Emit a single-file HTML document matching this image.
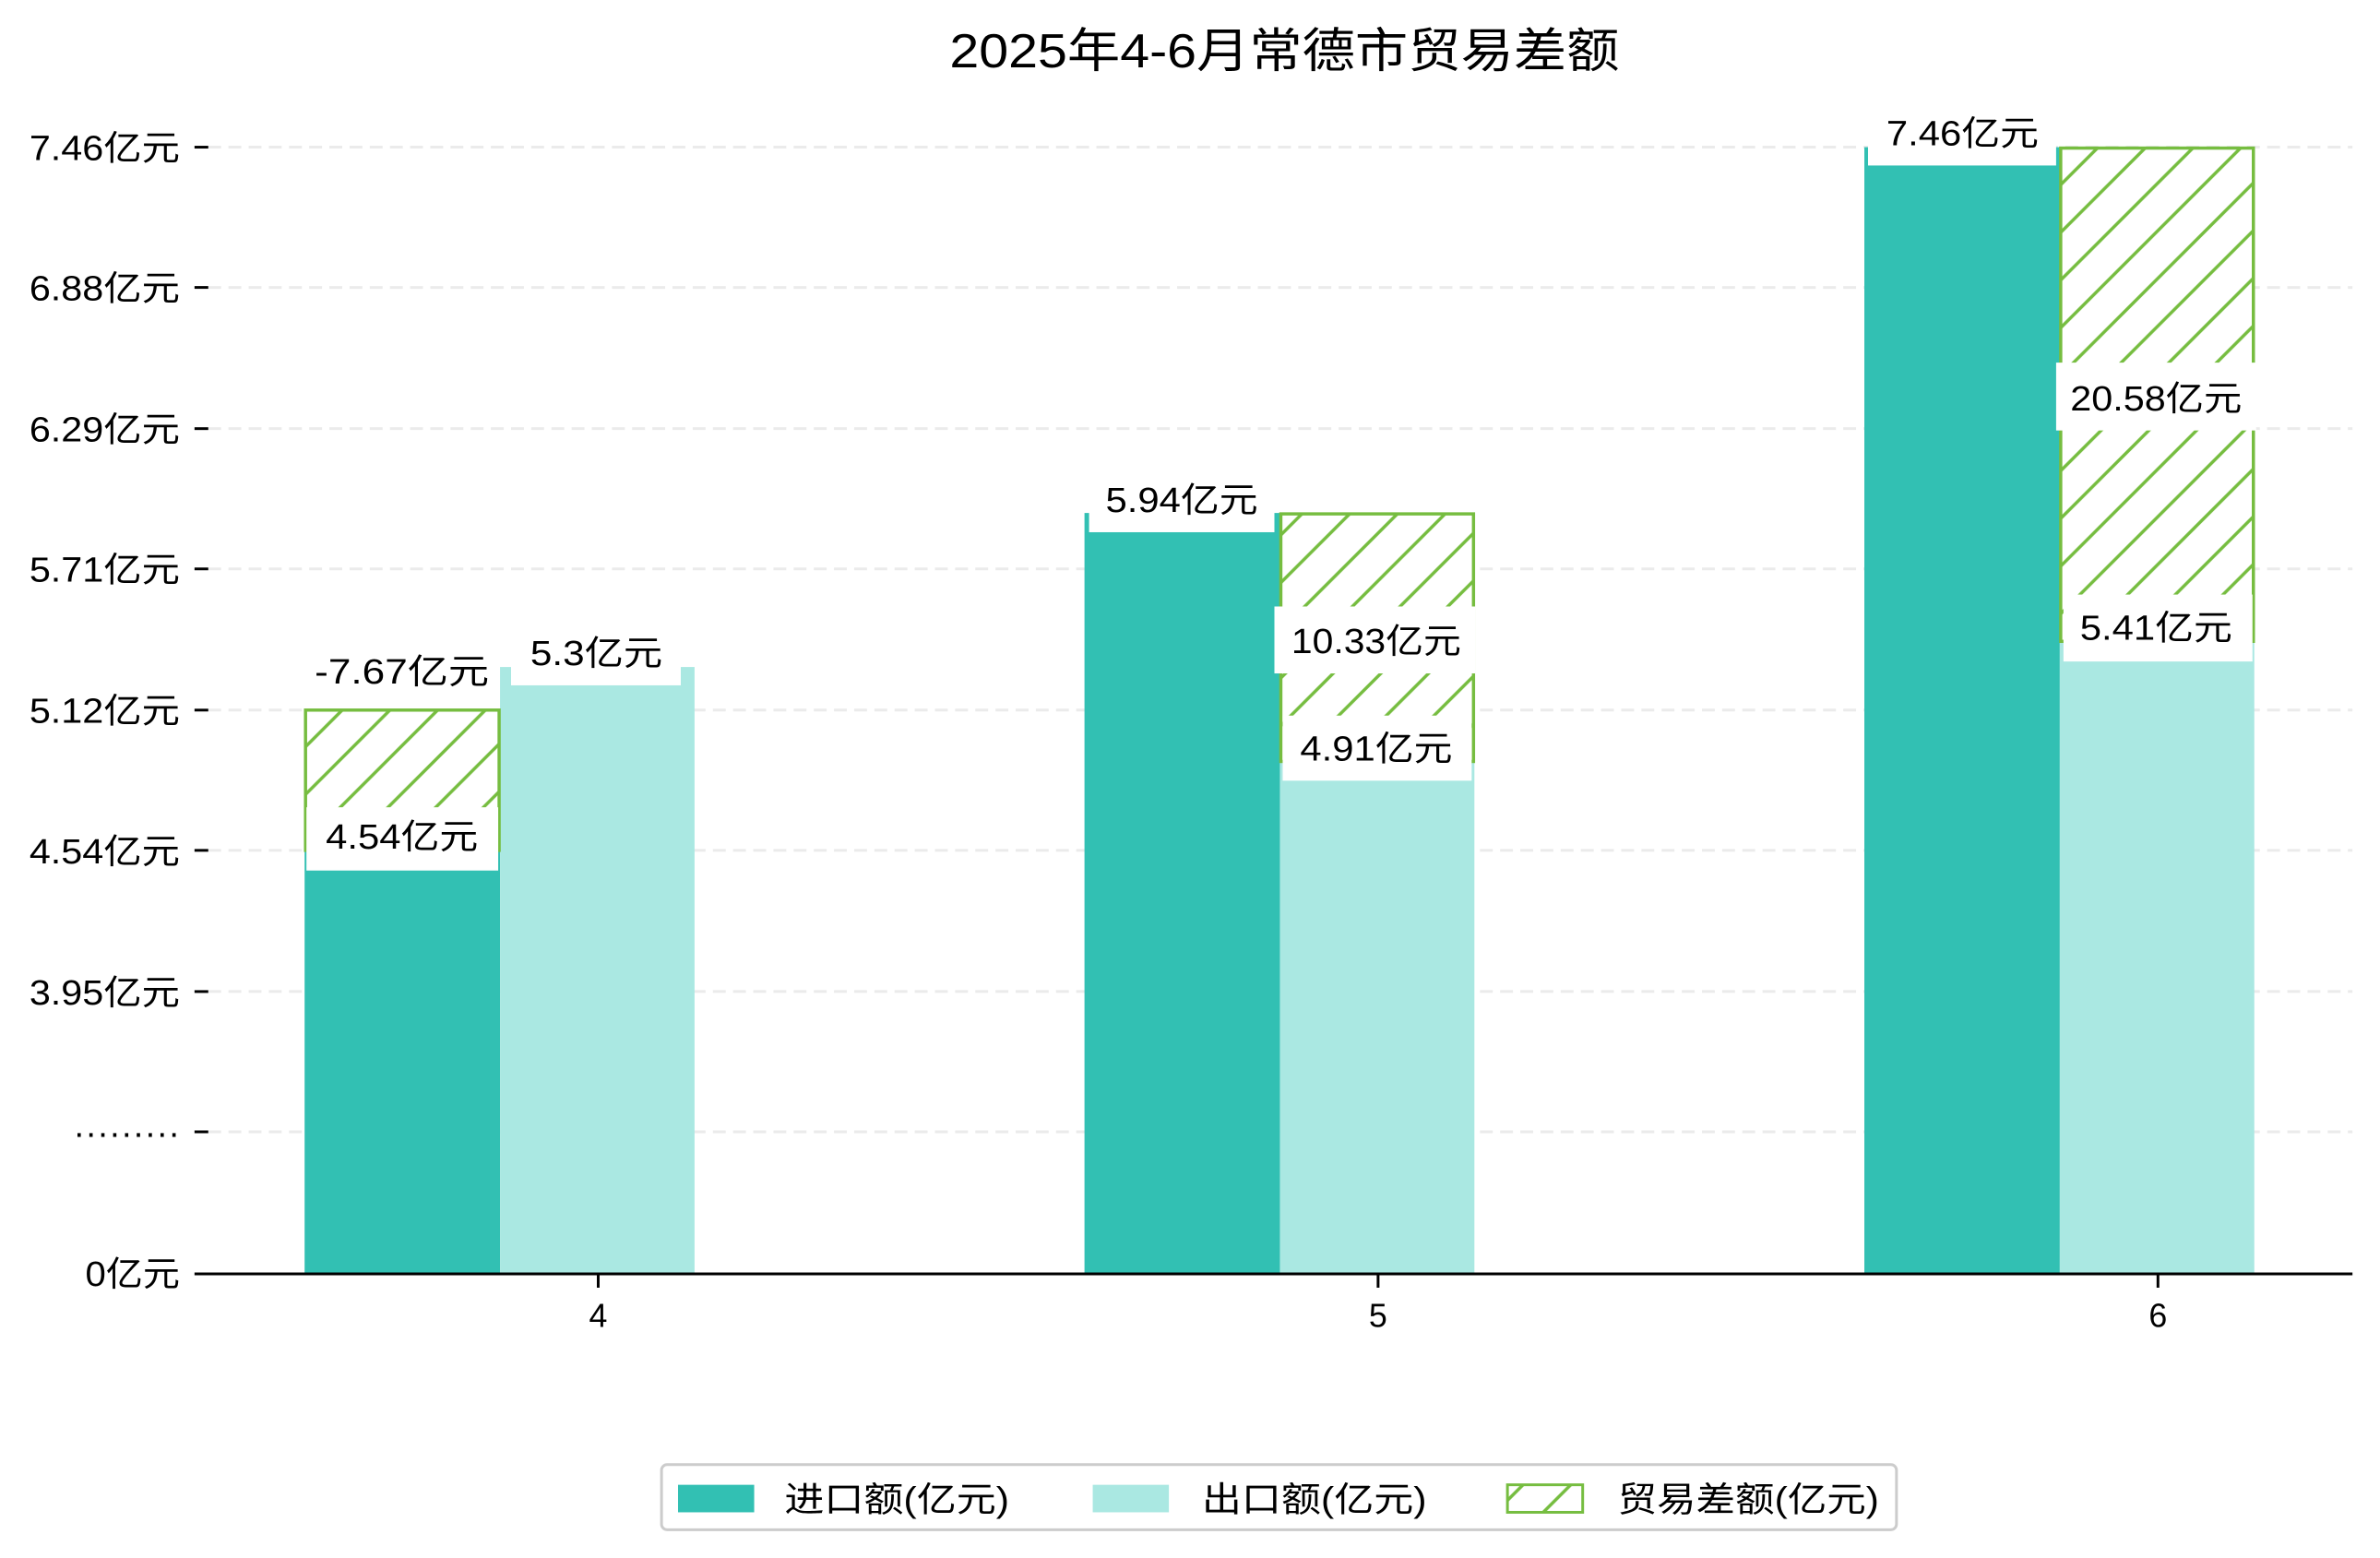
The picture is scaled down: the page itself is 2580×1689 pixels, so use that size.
<!DOCTYPE html>
<html><head><meta charset="utf-8"><style>
html,body{margin:0;padding:0;background:#fff;}
svg{display:block;font-family:"Liberation Sans","Noto Sans CJK SC",sans-serif;}
</style></head><body>
<svg width="2580" height="1689" viewBox="0 0 2580 1689" xmlns="http://www.w3.org/2000/svg">
<defs>
<pattern id="h" patternUnits="userSpaceOnUse" width="52" height="52">
<rect width="52" height="52" fill="#fff"/>
<path d="M-13,13 L13,-13 M0,52 L52,0 M39,65 L65,39" stroke="#76bd40" stroke-width="3.5"/>
</pattern>
</defs>
<g transform="matrix(0.9946 0 0 0.9939 0 3.5)">
<text x="1400" y="70" font-size="52" text-anchor="middle" fill="#000" textLength="730" lengthAdjust="spacingAndGlyphs">2025年4-6月常德市贸易差额</text>
<g stroke="#ebebeb" stroke-width="3" stroke-dasharray="14,8">
<line x1="227" y1="157" x2="2564" y2="157"/>
<line x1="227" y1="310" x2="2564" y2="310"/>
<line x1="227" y1="464" x2="2564" y2="464"/>
<line x1="227" y1="617" x2="2564" y2="617"/>
<line x1="227" y1="771" x2="2564" y2="771"/>
<line x1="227" y1="924" x2="2564" y2="924"/>
<line x1="227" y1="1078" x2="2564" y2="1078"/>
<line x1="227" y1="1231" x2="2564" y2="1231"/>
</g>
<g stroke="#000" stroke-width="3">
<line x1="212" y1="157" x2="227" y2="157"/>
<line x1="212" y1="310" x2="227" y2="310"/>
<line x1="212" y1="464" x2="227" y2="464"/>
<line x1="212" y1="617" x2="227" y2="617"/>
<line x1="212" y1="771" x2="227" y2="771"/>
<line x1="212" y1="924" x2="227" y2="924"/>
<line x1="212" y1="1078" x2="227" y2="1078"/>
<line x1="212" y1="1231" x2="227" y2="1231"/>
</g>
<g font-size="38" text-anchor="end" fill="#000" lengthAdjust="spacingAndGlyphs">
<text x="196" y="171" textLength="164" lengthAdjust="spacingAndGlyphs">7.46亿元</text>
<text x="196" y="324" textLength="164" lengthAdjust="spacingAndGlyphs">6.88亿元</text>
<text x="196" y="478" textLength="164" lengthAdjust="spacingAndGlyphs">6.29亿元</text>
<text x="196" y="631" textLength="164" lengthAdjust="spacingAndGlyphs">5.71亿元</text>
<text x="196" y="785" textLength="164" lengthAdjust="spacingAndGlyphs">5.12亿元</text>
<text x="196" y="938" textLength="164" lengthAdjust="spacingAndGlyphs">4.54亿元</text>
<text x="196" y="1092" textLength="164" lengthAdjust="spacingAndGlyphs">3.95亿元</text>
<text x="196" y="1245" textLength="116" lengthAdjust="spacing">·········</text>
<text x="196" y="1399" textLength="103" lengthAdjust="spacingAndGlyphs">0亿元</text>
</g>
<g fill="#32c0b3">
<rect x="332" y="924" width="213" height="461"/>
<rect x="1182" y="556" width="213" height="829"/>
<rect x="2032" y="157" width="213" height="1228"/>
</g>
<g fill="#aae8e2">
<rect x="545" y="724" width="212" height="661"/>
<rect x="1395" y="827" width="212" height="558"/>
<rect x="2245" y="696" width="212" height="689"/>
</g>
<g fill="url(#h)" stroke="#76bd40" stroke-width="3.5">
<rect x="333" y="771" width="211" height="153"/>
<rect x="1396" y="557" width="210" height="270"/>
<rect x="2246" y="158" width="210" height="538"/>
</g>
<line x1="212" y1="1386" x2="2564" y2="1386" stroke="#000" stroke-width="3"/>
<g stroke="#000" stroke-width="3">
<line x1="652" y1="1386" x2="652" y2="1401"/>
<line x1="1502" y1="1386" x2="1502" y2="1401"/>
<line x1="2352" y1="1386" x2="2352" y2="1401"/>
</g>
<g font-size="36" text-anchor="middle" fill="#000">
<text x="652" y="1444">4</text>
<text x="1502" y="1444">5</text>
<text x="2352" y="1444">6</text>
</g>
<g fill="#fff">
<rect x="334" y="877" width="209" height="69"/>
<rect x="557" y="672" width="185" height="72"/>
<rect x="334" y="692" width="209" height="72"/>
<rect x="1187" y="505" width="202" height="72"/>
<rect x="1389" y="658" width="219" height="73"/>
<rect x="1398" y="777" width="206" height="71"/>
<rect x="2036" y="105" width="205" height="72"/>
<rect x="2241" y="392" width="218" height="74"/>
<rect x="2249" y="645" width="206" height="73"/>
</g>
<g font-size="38" text-anchor="middle" fill="#000">
<text x="438" y="922" textLength="166" lengthAdjust="spacingAndGlyphs">4.54亿元</text>
<text x="650" y="722" textLength="144" lengthAdjust="spacingAndGlyphs">5.3亿元</text>
<text x="438" y="742" textLength="190" lengthAdjust="spacingAndGlyphs">-7.67亿元</text>
<text x="1288" y="555" textLength="166" lengthAdjust="spacingAndGlyphs">5.94亿元</text>
<text x="1500" y="709" textLength="185" lengthAdjust="spacingAndGlyphs">10.33亿元</text>
<text x="1500" y="826" textLength="166" lengthAdjust="spacingAndGlyphs">4.91亿元</text>
<text x="2139" y="155" textLength="166" lengthAdjust="spacingAndGlyphs">7.46亿元</text>
<text x="2350" y="444" textLength="187" lengthAdjust="spacingAndGlyphs">20.58亿元</text>
<text x="2350" y="694" textLength="166" lengthAdjust="spacingAndGlyphs">5.41亿元</text>
</g>
<rect x="721" y="1594" width="1346" height="71" rx="6" fill="#fff" stroke="#ccc" stroke-width="3"/>
<rect x="739" y="1616" width="83" height="30" fill="#32c0b3"/>
<rect x="1191" y="1616" width="83" height="30" fill="#aae8e2"/>
<rect x="1643" y="1616" width="82" height="30" fill="url(#h)" stroke="#76bd40" stroke-width="3"/>
<g font-size="38" fill="#000">
<text x="855" y="1645" textLength="245" lengthAdjust="spacingAndGlyphs">进口额(亿元)</text>
<text x="1310" y="1645" textLength="245" lengthAdjust="spacingAndGlyphs">出口额(亿元)</text>
<text x="1763" y="1645" textLength="285" lengthAdjust="spacingAndGlyphs">贸易差额(亿元)</text>
</g>
</g>
</svg>
</body></html>
